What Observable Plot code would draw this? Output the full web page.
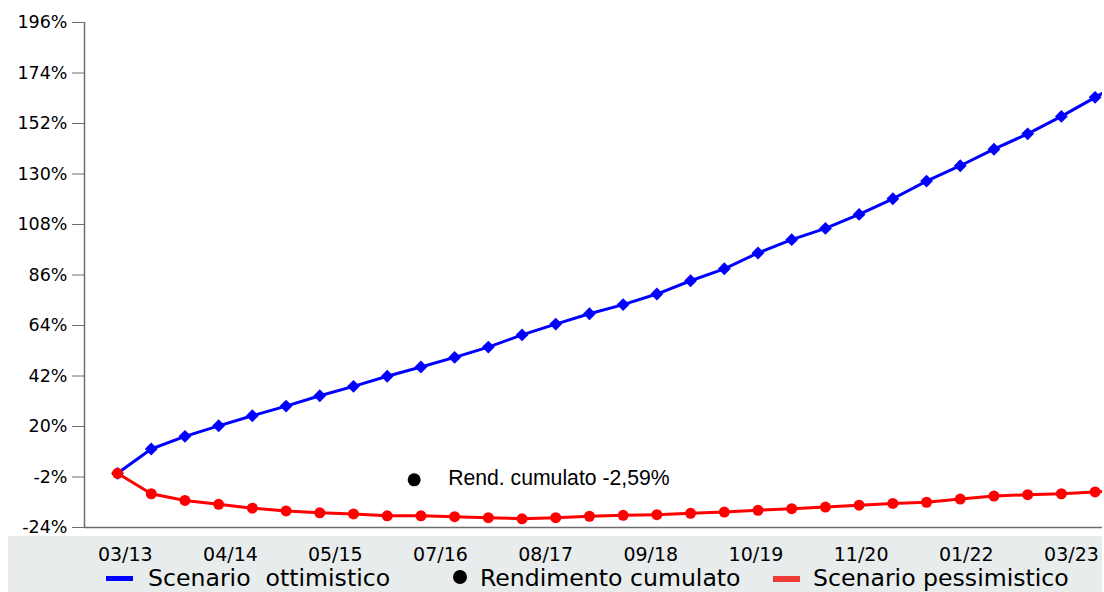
<!DOCTYPE html>
<html>
<head>
<meta charset="utf-8">
<script src="https://cdn.jsdelivr.net/npm/d3@7"></script>
<script src="https://cdn.jsdelivr.net/npm/@observablehq/plot@0.6"></script>
<style>
  html, body { margin: 0; padding: 0; background: #fff; }
  #wrap { position: relative; width: 1104px; height: 592px; background: #fff; overflow: hidden; }
  #band { position: absolute; left: 8px; top: 536px; width: 1094px; height: 56px; background: #e9ecec; }
  #chart { position: absolute; left: 0; top: 0; }
  #legend { position: absolute; left: 0; top: 567px; width: 1104px; height: 25px;
            font-family: "DejaVu Sans", sans-serif; font-size: 23.6px; line-height: 23px; color: #000; }
  #legend span { position: absolute; white-space: pre; }
  .sw { position: absolute; }
</style>
</head>
<body>
<div id="wrap">
  <div id="band"></div>
  <div id="chart"></div>
  <div id="legend"></div>
</div>
<script>
// ---- data ----
const ottimistico = [-0.4, 10.2, 15.7, 20.3, 24.7, 28.9, 33.4, 37.5, 41.9, 45.9, 50.1, 54.6, 59.9, 64.6, 69.1,
                     73.1, 77.7, 83.5, 88.7, 95.6, 101.4, 106.3, 112.4, 119.2, 126.9, 133.6, 140.8, 147.5, 155.1, 163.4, 171.5];
const pessimistico = [-0.4, -9.3, -12.2, -13.9, -15.6, -16.8, -17.6, -18.1, -18.9, -18.9, -19.3, -19.7, -20.2, -19.7, -19.1,
                      -18.7, -18.4, -17.8, -17.3, -16.5, -15.8, -15.1, -14.3, -13.5, -13.0, -11.6, -10.3, -9.7, -9.3, -8.5, -7.8];
const xTickPos = [0.23, 3.35, 6.46, 9.58, 12.70, 15.82, 18.94, 22.06, 25.18, 28.30];
const xTickLabels = ["03/13", "04/14", "05/15", "07/16", "08/17", "09/18", "10/19", "11/20", "01/22", "03/23"];
const yTicks = [-24, -2, 20, 42, 64, 86, 108, 130, 152, 174, 196];
const xDomain = [-0.98, 29.22];
const yDomain = [-24, 196];
const rendPos = 8.8;
const rendValue = -2.59;
const rendLabel = "Rend. cumulato -2,59%";
const legendItems = ["Scenario  ottimistico", "Rendimento cumulato", "Scenario pessimistico"];

// ---- build tables ----
const blueRows = ottimistico.map((v, i) => ({i, v}));
const redRows = pessimistico.map((v, i) => ({i, v}));
const tickLabel = new Map(xTickPos.map((p, k) => [p, xTickLabels[k]]));

const chart = Plot.plot({
  width: 1104,
  height: 566,
  marginTop: 22,
  marginBottom: 39,
  marginLeft: 84,
  marginRight: 2,
  style: {background: "transparent", fontFamily: "DejaVu Sans, sans-serif", color: "#000", overflow: "visible"},
  x: {type: "linear", domain: xDomain, axis: null},
  y: {domain: yDomain, axis: null},
  marks: [
    Plot.axisY(yTicks, {anchor: "left", tickSize: 12, tickPadding: 5, tickFormat: d => d + "%",
                        fontSize: 17.5, stroke: "#6e6e6e", fill: "#000"}),
    Plot.axisX(xTickPos, {anchor: "bottom", tickSize: 0, tickPadding: 20, tickFormat: d => tickLabel.get(d),
                          fontSize: 19, fill: "#000"}),
    Plot.ruleX([xDomain[0]], {stroke: "#6e6e6e", strokeWidth: 1.5}),
    Plot.ruleY([yDomain[0]], {stroke: "#6e6e6e", strokeWidth: 1.5}),
    Plot.lineY(blueRows, {x: "i", y: "v", stroke: "#0000ff", strokeWidth: 3, clip: true}),
    Plot.dot(blueRows, {x: "i", y: "v", symbol: "diamond2", r: 5.8, fill: "#0000ff", clip: true}),
    Plot.lineY(redRows, {x: "i", y: "v", stroke: "#ff0000", strokeWidth: 3, clip: true}),
    Plot.dot(redRows, {x: "i", y: "v", r: 5.5, fill: "#ff0000", clip: true}),
    Plot.dot([{x: rendPos, y: rendValue}], {x: "x", y: "y", r: 6.5, fill: "#000", dy: 1.5}),
    Plot.text([{x: rendPos, y: rendValue, t: rendLabel}], {x: "x", y: "y", text: "t", dx: 34, dy: 0,
               textAnchor: "start", fontSize: 21.2, fontFamily: "Liberation Sans, Arial, sans-serif", fill: "#000"})
  ]
});
document.getElementById("chart").appendChild(chart);

// ---- legend (HTML below the plot area) ----
const legend = document.getElementById("legend");
const sw1 = document.createElement("div");
sw1.className = "sw";
Object.assign(sw1.style, {left: "106px", top: "9px", width: "27px", height: "5px", background: "#0000ff"});
legend.appendChild(sw1);
const t1 = document.createElement("span");
t1.textContent = legendItems[0];
t1.style.left = "148px"; t1.style.top = "0px";
legend.appendChild(t1);

const sw2 = document.createElement("div");
sw2.className = "sw";
Object.assign(sw2.style, {left: "453px", top: "3px", width: "14px", height: "14px", background: "#000", borderRadius: "50%"});
legend.appendChild(sw2);
const t2 = document.createElement("span");
t2.textContent = legendItems[1];
t2.style.left = "480px"; t2.style.top = "0px";
legend.appendChild(t2);

const sw3 = document.createElement("div");
sw3.className = "sw";
Object.assign(sw3.style, {left: "773px", top: "9px", width: "27px", height: "6px", background: "#ef3b35"});
legend.appendChild(sw3);
const t3 = document.createElement("span");
t3.textContent = legendItems[2];
t3.style.left = "813px"; t3.style.top = "0px";
legend.appendChild(t3);
</script>
</body>
</html>
